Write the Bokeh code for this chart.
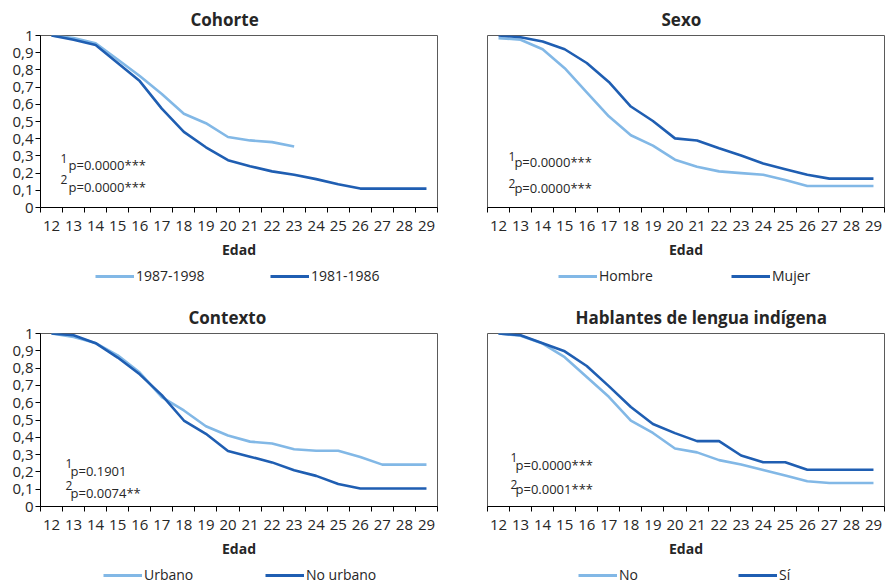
from bokeh.plotting import figure
from bokeh.models import (FixedTicker, CustomJSTickFormatter, Range1d, Legend,
                          LegendItem, Label, ColumnDataSource)
from bokeh.layouts import column, row
from bokeh.embed import file_html
from bokeh.resources import INLINE

# ---------------- data ----------------
ages = list(range(12, 30))
y_ticks = [0, 0.1, 0.2, 0.3, 0.4, 0.5, 0.6, 0.7, 0.8, 0.9, 1.0]

cohorte_1987_1998 = [1.0, 0.985, 0.955, 0.86, 0.765, 0.66, 0.545, 0.49, 0.41, 0.39, 0.38, 0.355]
cohorte_1981_1986 = [1.0, 0.975, 0.945, 0.84, 0.735, 0.575, 0.44, 0.35, 0.275, 0.24, 0.21,
                     0.19, 0.165, 0.135, 0.11, 0.11, 0.11, 0.11]
sexo_hombre = [0.985, 0.975, 0.92, 0.81, 0.67, 0.53, 0.42, 0.36, 0.278, 0.237, 0.21, 0.2,
               0.19, 0.16, 0.125, 0.125, 0.125, 0.125]
sexo_mujer = [1.0, 0.99, 0.965, 0.92, 0.84, 0.73, 0.587, 0.503, 0.402, 0.39, 0.345, 0.302,
              0.256, 0.223, 0.19, 0.168, 0.168, 0.168]
contexto_urbano = [1.0, 0.98, 0.945, 0.874, 0.774, 0.632, 0.555, 0.464, 0.41, 0.375, 0.364,
                   0.331, 0.322, 0.322, 0.286, 0.242, 0.242, 0.242]
contexto_no_urbano = [1.0, 0.99, 0.944, 0.861, 0.764, 0.644, 0.497, 0.42, 0.321, 0.288, 0.255,
                      0.209, 0.177, 0.13, 0.104, 0.104, 0.104, 0.104]
hli_no = [1.0, 0.987, 0.942, 0.863, 0.749, 0.634, 0.497, 0.425, 0.335, 0.313, 0.268, 0.243,
          0.211, 0.179, 0.146, 0.136, 0.136, 0.136]
hli_si = [1.0, 0.99, 0.944, 0.897, 0.812, 0.696, 0.575, 0.477, 0.424, 0.378, 0.378, 0.295,
          0.256, 0.256, 0.212, 0.212, 0.212, 0.212]

titles = ["Cohorte", "Sexo", "Contexto", "Hablantes de lengua indígena"]
labels_light = ["1987-1998", "Hombre", "Urbano", "No"]
labels_dark = ["1981-1986", "Mujer", "No urbano", "Sí"]
series_light = [cohorte_1987_1998, sexo_hombre, contexto_urbano, hli_no]
series_dark = [cohorte_1981_1986, sexo_mujer, contexto_no_urbano, hli_si]
pvals_1 = ["p=0.0000***", "p=0.0000***", "p=0.1901", "p=0.0000***"]
pvals_2 = ["p=0.0000***", "p=0.0000***", "p=0.0074**", "p=0.0001***"]

# ---------------- style / layout ----------------
LIGHT = "#82B8E6"
DARK = "#1F5EB2"
TXT = "#262626"
FONT = "Open Sans"

FIG_W = 443
FRAME_W = 397
FRAME_H = 173
BORDER_BOTTOM = 58

# per-panel layout: (has_y_axis, border_top, border_left, title_offset,
#                    legend_fig_h, legend_x, legend_y, label_width,
#                    sup_x, p_x, y_sup1, y_p1, y_sup2, y_p2)
layout_cfg = [
    (True, 34, 40, 150, 28, 55, 8, 134, 12.41, 12.77, 0.286, 0.25, 0.162, 0.121),
    (False, 34, 44, 174, 28, 71, 8, 132, 12.45, 12.72, 0.296, 0.262, 0.142, 0.113),
    (True, 40, 40, 148, 21, 63, 1, 121, 12.63, 12.86, 0.249, 0.205, 0.121, 0.079),
    (False, 40, 44, 88, 21, 91, 1, 119, 12.54, 12.77, 0.283, 0.237, 0.127, 0.1),
]

panels = []
for i in range(4):
    (has_y, btop, bleft, toff, lfh, lx, ly, lw,
     supx, px, ys1, yp1, ys2, yp2) = layout_cfg[i]
    fig_h = btop + FRAME_H + BORDER_BOTTOM
    p = figure(width=FIG_W, height=fig_h, output_backend="svg", toolbar_location=None,
               x_range=Range1d(11.5, 29.5), y_range=Range1d(0, 1),
               min_border_top=btop, min_border_left=bleft,
               min_border_right=FIG_W - bleft - FRAME_W,
               min_border_bottom=BORDER_BOTTOM,
               background_fill_color="white", border_fill_color="white")
    p.title.text = titles[i]
    p.title.align = "left"
    p.title.offset = toff
    p.title.standoff = 10
    p.title.text_font = FONT
    p.title.text_font_style = "bold"
    p.title.text_font_size = "17px"
    p.title.text_color = TXT

    p.grid.visible = False
    p.outline_line_color = "#5a5a5a"
    p.outline_line_width = 1

    # x axis: labels at ages, ticks at category boundaries
    xa = p.xaxis[0]
    xa.ticker = FixedTicker(ticks=ages,
                            minor_ticks=[a - 0.5 for a in ages] + [ages[-1] + 0.5])
    xa.major_tick_line_color = None
    xa.major_tick_out = 5
    xa.major_tick_in = 0
    xa.minor_tick_line_color = "#000000"
    xa.minor_tick_out = 5
    xa.minor_tick_in = 0
    xa.axis_line_color = "#000000"
    xa.major_label_standoff = 8
    xa.major_label_text_font = FONT
    xa.major_label_text_font_size = "15px"
    xa.major_label_text_color = TXT
    xa.axis_label = "Edad"
    xa.axis_label_text_font = FONT
    xa.axis_label_text_font_style = "bold"
    xa.axis_label_text_font_size = "14px"
    xa.axis_label_text_color = TXT
    xa.axis_label_standoff = 6

    ya = p.yaxis[0]
    if has_y:
        ya.ticker = FixedTicker(ticks=y_ticks, minor_ticks=[])
        ya.formatter = CustomJSTickFormatter(
            code="return (Math.round(tick*10)/10).toString().replace('.', ',');")
        ya.major_tick_out = 5
        ya.major_tick_in = 0
        ya.major_tick_line_color = "#000000"
        ya.minor_tick_line_color = None
        ya.axis_line_color = "#000000"
        ya.major_label_standoff = 2
        ya.major_label_text_font = FONT
        ya.major_label_text_font_size = "15px"
        ya.major_label_text_color = TXT
    else:
        ya.visible = False

    sl = ColumnDataSource(dict(x=ages[:len(series_light[i])], y=series_light[i]))
    sd = ColumnDataSource(dict(x=ages[:len(series_dark[i])], y=series_dark[i]))
    p.line("x", "y", source=sl, line_color=LIGHT, line_width=2.6)
    p.line("x", "y", source=sd, line_color=DARK, line_width=2.6)

    for txt, xx, yy, size in [("1", supx, ys1, "12px"), (pvals_1[i], px, yp1, "13px"),
                              ("2", supx, ys2, "12px"), (pvals_2[i], px, yp2, "13px")]:
        p.add_layout(Label(x=xx, y=yy, text=txt, text_font=FONT, text_font_size=size,
                           text_color=TXT, text_baseline="middle", text_align="left"))

    # legend strip below the chart: same sources & styles, its ranges keep the
    # lines themselves out of view so only the legend entries show
    lf = figure(width=FIG_W, height=lfh, output_backend="svg", toolbar_location=None,
                x_range=Range1d(0, 1), y_range=Range1d(0, 1), min_border=0,
                x_axis_location=None, y_axis_location=None,
                background_fill_color="white", border_fill_color="white")
    lf.grid.visible = False
    lf.outline_line_color = None
    k1 = lf.line("x", "y", source=sl, line_color=LIGHT, line_width=3)
    k2 = lf.line("x", "y", source=sd, line_color=DARK, line_width=3)
    legend = Legend(items=[LegendItem(label=labels_light[i], renderers=[k1]),
                           LegendItem(label=labels_dark[i], renderers=[k2])],
                    orientation="horizontal", location=(lx, ly),
                    glyph_width=39, glyph_height=14, label_standoff=2,
                    label_width=lw, label_height=14, spacing=0, padding=0, margin=0,
                    border_line_color=None, background_fill_alpha=0,
                    label_text_font=FONT, label_text_font_size="14px",
                    label_text_color=TXT)
    lf.add_layout(legend, "center")
    panels.append(column(p, lf, spacing=0))

layout = column(row(panels[0], panels[1], spacing=0),
                row(panels[2], panels[3], spacing=0), spacing=0)

open("out.html", "w").write(file_html(layout, INLINE))
